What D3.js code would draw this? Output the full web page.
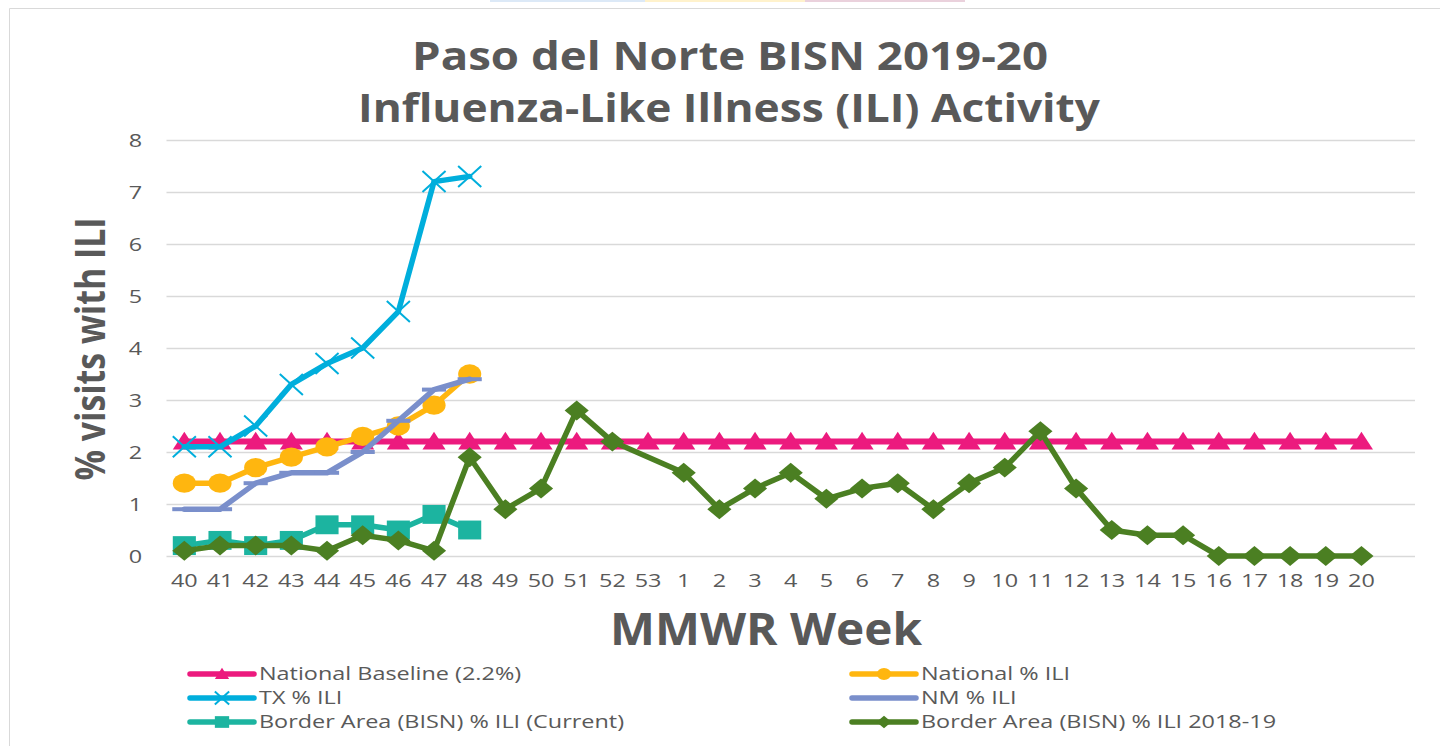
<!doctype html>
<html lang="en">
<head>
  <meta charset="UTF-8">
  <title>Paso del Norte BISN 2019-20 ILI</title>
  <style>
    * { padding: 0; margin: 0; }
    body { background: #fff; }
    svg text { font-family: "Open Sans", "Noto Sans", sans-serif; fill: #595959; }
  </style>
  <script src="https://cdn.jsdelivr.net/npm/d3@7"></script>
</head>
<body>
  <svg width="1440" height="746"></svg>
  <script>
    // week labels on the x axis
    var weeks = ["40","41","42","43","44","45","46","47","48","49","50","51","52","53",
                 "1","2","3","4","5","6","7","8","9","10","11","12","13","14","15","16","17","18","19","20"];
    var yTicks = [0, 1, 2, 3, 4, 5, 6, 7, 8];

    // series values (null = no value for that week)
    var baseline = weeks.map(function () { return 2.2; });
    var txIli = [2.1, 2.1, 2.5, 3.3, 3.7, 4.0, 4.7, 7.2, 7.3];
    var nationalIli = [1.4, 1.4, 1.7, 1.9, 2.1, 2.3, 2.5, 2.9, 3.5];
    var nmIli = [0.9, 0.9, 1.4, 1.6, 1.6, 2.0, 2.6, 3.2, 3.4];
    var bisnCurrent = [0.2, 0.3, 0.2, 0.3, 0.6, 0.6, 0.5, 0.8, 0.5];
    var bisn1819 = [0.1, 0.2, 0.2, 0.2, 0.1, 0.4, 0.3, 0.1, 1.9, 0.9, 1.3, 2.8, 2.2, null,
                    1.6, 0.9, 1.3, 1.6, 1.1, 1.3, 1.4, 0.9, 1.4, 1.7, 2.4, 1.3, 0.5, 0.4, 0.4, 0, 0, 0, 0, 0];

    var series = [
      { name: "National Baseline (2.2%)", values: baseline, color: "#EC1A7E", marker: "triangle", col: 0, row: 0 },
      { name: "National % ILI", values: nationalIli, color: "#FFB60F", marker: "circle", col: 1, row: 0 },
      { name: "TX % ILI", values: txIli, color: "#00AEDC", marker: "x", col: 0, row: 1 },
      { name: "NM % ILI", values: nmIli, color: "#7A8FCB", marker: "dash", col: 1, row: 1 },
      { name: "Border Area (BISN) % ILI (Current)", values: bisnCurrent, color: "#1CB4A0", marker: "square", col: 0, row: 2 },
      { name: "Border Area (BISN) % ILI 2018-19", values: bisn1819, color: "#4B7F22", marker: "diamond", col: 1, row: 2 }
    ];
    // drawing order (back to front)
    var drawOrder = [0, 2, 1, 3, 4, 5];

    var svg = d3.select("svg");

    // page frame and top strip
    svg.append("rect").attr("x", 490).attr("y", 0).attr("width", 155).attr("height", 2).attr("fill", "#dce9f7");
    svg.append("rect").attr("x", 645).attr("y", 0).attr("width", 160).attr("height", 2).attr("fill", "#fff2cc");
    svg.append("rect").attr("x", 805).attr("y", 0).attr("width", 160).attr("height", 2).attr("fill", "#ead1dc");
    svg.append("path").attr("d", "M9.5,746V8.5H1440").attr("fill", "none").attr("stroke", "#d9d9d9");

    var step = 35.67;
    var x = d3.scaleBand().domain(weeks).range([166.5, 166.5 + step * weeks.length]);
    var y = d3.scaleLinear().domain([0, 8]).range([556, 140]);
    var cx = function (w) { return x(w) + x.bandwidth() / 2; };
    var gridRight = 1415;

    // gridlines
    svg.append("g").selectAll("line").data(yTicks).enter().append("line")
      .attr("x1", 166.5).attr("x2", gridRight)
      .attr("y1", function (d) { return Math.round(y(d)) + 0.5; })
      .attr("y2", function (d) { return Math.round(y(d)) + 0.5; })
      .attr("stroke", "#d9d9d9").attr("stroke-width", 1.3);

    // y tick labels
    var yAxis = d3.axisLeft(y).tickValues(yTicks).tickSize(0).tickPadding(24);
    var gy = svg.append("g").attr("transform", "translate(166,0)").call(yAxis);
    gy.select(".domain").remove();
    gy.selectAll("text").attr("class", "stretch").style("font-size", "18px").attr("dy", "0.35em").attr("fill", "#595959");

    // x tick labels
    var xAxis = d3.axisBottom(x).tickSize(0).tickPadding(18);
    var gx = svg.append("g").attr("transform", "translate(0,556)").call(xAxis);
    gx.select(".domain").remove();
    gx.selectAll("text").attr("class", "stretch").style("font-size", "18px").attr("fill", "#595959");

    function markerPath(type, s) {
      var h = s / 2;
      if (type === "triangle") return "M0," + (-h * 0.95) + "L" + (h * 1.1) + "," + (h * 0.75) + "L" + (-h * 1.1) + "," + (h * 0.75) + "Z";
      if (type === "square") return "M" + (-h * 1.1) + "," + (-h * 0.9) + "H" + (h * 1.1) + "V" + (h * 0.9) + "H" + (-h * 1.1) + "Z";
      if (type === "diamond") return "M0," + (-h * 0.95) + "L" + (h * 1.15) + ",0L0," + (h * 0.95) + "L" + (-h * 1.15) + ",0Z";
      if (type === "x") return "M" + (-h * 1.1) + "," + (-h) + "L" + (h * 1.1) + "," + h + "M" + (-h * 1.1) + "," + h + "L" + (h * 1.1) + "," + (-h);
      if (type === "dash") return "M" + (-h * 1.15) + ",0H" + (h * 1.15);
      return "";
    }

    function drawMarker(g, type, color, s) {
      if (type === "circle") {
        g.append("ellipse").attr("rx", s * 0.55).attr("ry", s * 0.46).attr("fill", color);
      } else if (type === "x" || type === "dash") {
        g.append("path").attr("d", markerPath(type, s)).attr("fill", "none")
          .attr("stroke", color).attr("stroke-width", type === "x" ? 2 : 4);
      } else {
        g.append("path").attr("d", markerPath(type, s)).attr("fill", color);
      }
    }

    var line = d3.line().x(function (d) { return cx(d.week); }).y(function (d) { return y(d.value); });

    drawOrder.forEach(function (i) {
      var s = series[i];
      var pts = s.values.map(function (v, j) { return { week: weeks[j], value: v }; })
        .filter(function (d) { return d.value !== null; });
      var g = svg.append("g");
      g.append("path").datum(pts).attr("d", line).attr("fill", "none")
        .attr("stroke", s.color).attr("stroke-width", i === 0 ? 6 : 5.5)
        .attr("stroke-linejoin", "round").attr("stroke-linecap", "round");
      g.selectAll("g.m").data(pts).enter().append("g").attr("class", "m")
        .attr("transform", function (d) { return "translate(" + cx(d.week) + "," + y(d.value) + ")"; })
        .each(function () { drawMarker(d3.select(this), s.marker, s.color, 21); });
    });

    // titles
    svg.append("text").attr("x", 730).attr("y", 70).attr("text-anchor", "middle")
      .style("font-size", "39px").style("font-weight", "bold")
      .attr("textLength", 636).attr("lengthAdjust", "spacingAndGlyphs").text("Paso del Norte BISN 2019-20");
    svg.append("text").attr("x", 729).attr("y", 122).attr("text-anchor", "middle")
      .style("font-size", "39px").style("font-weight", "bold")
      .attr("textLength", 742).attr("lengthAdjust", "spacingAndGlyphs").text("Influenza-Like Illness (ILI) Activity");
    svg.append("text").attr("transform", "translate(105,349) rotate(-90)").attr("text-anchor", "middle")
      .style("font-size", "42px").style("font-weight", "bold")
      .attr("textLength", 263).attr("lengthAdjust", "spacingAndGlyphs").text("% visits with ILI");
    svg.append("text").attr("x", 766).attr("y", 645).attr("text-anchor", "middle")
      .style("font-size", "44px").style("font-weight", "bold")
      .attr("textLength", 312).attr("lengthAdjust", "spacingAndGlyphs").text("MMWR Week");

    // legend
    var legendX = [190, 852];
    var legendY = [674, 698, 722];
    series.forEach(function (s) {
      var g = svg.append("g").attr("transform", "translate(" + legendX[s.col] + "," + legendY[s.row] + ")");
      g.append("line").attr("x1", 0).attr("x2", 64).attr("y1", 0).attr("y2", 0)
        .attr("stroke", s.color).attr("stroke-width", 5.5).attr("stroke-linecap", "round");
      if (s.marker !== "dash") {
        var mg = g.append("g").attr("transform", "translate(32,0)");
        drawMarker(mg, s.marker, s.color, 13);
      }
      g.append("text").attr("class", "stretch").attr("x", 69).attr("y", 0).attr("dy", "0.35em")
        .style("font-size", "18px").text(s.name);
    });

    // widen regular text to match the stretched look of the reference
    svg.selectAll("text.stretch").each(function () {
      var len = this.getComputedTextLength();
      d3.select(this).attr("textLength", len * 1.3).attr("lengthAdjust", "spacingAndGlyphs");
    });
  </script>
</body>
</html>
